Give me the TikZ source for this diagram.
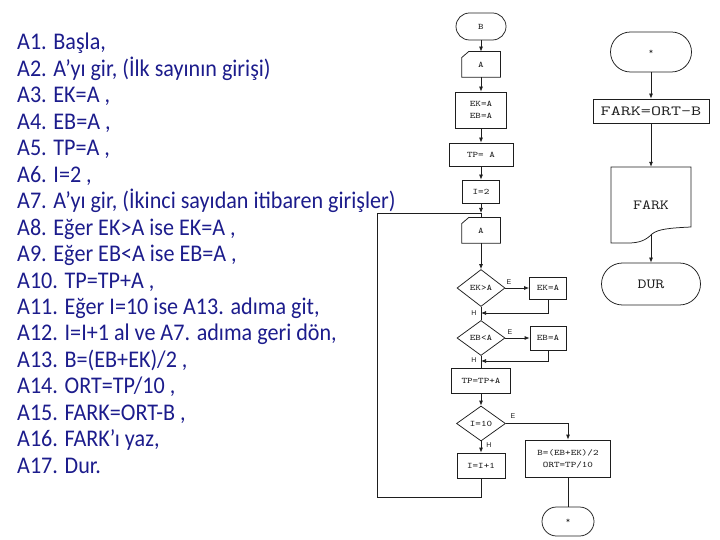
\documentclass[tikz,border=0pt]{standalone}
\usepackage{graphicx}
\usepackage{fontspec}
\setmainfont{Carlito}
\newfontfamily\sansf{Liberation Sans}
\usetikzlibrary{shapes.geometric,arrows.meta,calc}
\definecolor{navytxt}{RGB}{28,28,140}
\definecolor{ink}{RGB}{30,30,30}
\newcommand\flsm{\ttfamily\fontsize{8.5}{12}\selectfont}
\newcommand\flbg{\ttfamily\fontsize{14}{18}\selectfont}
\newcommand\fllab{\sansf\fontsize{7}{8}\selectfont}
\newcommand\sq[1]{\scalebox{0.925}[1]{#1}}
\newcommand\sx[1]{\scalebox{1.25}[1]{#1}}
\tikzset{
  fl/.style={draw=ink, line width=0.75bp},
  box/.style={fl, rectangle, inner sep=0pt, font=\flsm, text=ink, align=center},
  dia/.style={fl, diamond, inner sep=0pt, font=\flsm, text=ink},
  arr/.style={fl, -{Latex[length=5bp,width=4bp]}},
  lab/.style={font=\fllab, text=ink, inner sep=0pt},
  txt/.style={anchor=base west, inner sep=0pt, text=navytxt, font=\fontsize{24}{29}\selectfont}
}
\begin{document}
\begin{tikzpicture}[x=1bp,y=-1bp]
\useasboundingbox (0,0) rectangle (720,540);
% algorithm text
\node[txt] (t1) at (17,50) {\sq{A1. Başla,}};
\node[txt] (t2) at (17,76.45) {\sq{A2. A’yı gir, (İlk sayının girişi)}};
\node[txt] (t3) at (17,102.9) {\sq{A3. EK=A ,}};
\node[txt] (t4) at (17,129.35) {\sq{A4. EB=A ,}};
\node[txt] (t5) at (17,155.8) {\sq{A5. TP=A ,}};
\node[txt] (t6) at (17,182.25) {\sq{A6. I=2 ,}};
\node[txt] (t7) at (17,208.7) {\sq{A7. A’yı gir, (İkinci sayıdan itibaren girişler)}};
\node[txt] (t8) at (17,235.15) {\sq{A8. Eğer EK>A ise EK=A ,}};
\node[txt] (t9) at (17,261.6) {\sq{A9. Eğer EB<A ise EB=A ,}};
\node[txt] (t10) at (17,288.05) {\sq{A10. TP=TP+A ,}};
\node[txt] (t11) at (17,314.5) {\sq{A11. Eğer I=10 ise A13. adıma git,}};
\node[txt] (t12) at (17,340.95) {\sq{A12. I=I+1 al ve A7. adıma geri dön,}};
\node[txt] (t13) at (17,367.4) {\sq{A13. B=(EB+EK)/2 ,}};
\node[txt] (t14) at (17,393.85) {\sq{A14. ORT=TP/10 ,}};
\node[txt] (t15) at (17,420.3) {\sq{A15. FARK=ORT-B ,}};
\node[txt] (t16) at (17,446.75) {\sq{A16. FARK’ı yaz,}};
\node[txt] (t17) at (17,473.2) {\sq{A17. Dur.}};
% left flowchart
\node[box, rounded corners=13.5bp, minimum width=50bp, minimum height=27bp] (b) at (481,26.5) {\sx{B}};
\node[box, draw=none, minimum width=38bp, minimum height=25bp] (a1) at (481,64.5) {\sx{A}};
\draw[fl] ($(a1.north west)+(0,6)$) -- ($(a1.north west)+(7,0)$) -- (a1.north east) -- (a1.south east) -- (a1.south west) -- cycle;
\node[box, minimum width=51bp, minimum height=36bp] (ekeb) at (481,110) {\sx{EK=A}\\\sx{EB=A}};
\node[box, minimum width=64bp, minimum height=23bp] (tp) at (481,154.5) {\sx{TP= A}};
\node[box, minimum width=37bp, minimum height=23bp] (i2) at (481,191.5) {\sx{I=2}};
\node[box, draw=none, minimum width=38bp, minimum height=25bp] (a2) at (481,230.5) {\sx{A}};
\draw[fl] ($(a2.north west)+(0,6)$) -- ($(a2.north west)+(7,0)$) -- (a2.north east) -- (a2.south east) -- (a2.south west) -- cycle;
\node[dia, minimum width=48bp, minimum height=37bp] (d1) at (481,288) {\sx{EK>A}};
\node[box, minimum width=37bp, minimum height=22bp] (eka) at (548,288) {\sx{EK=A}};
\node[dia, minimum width=48bp, minimum height=35bp] (d2) at (481,338) {\sx{EB<A}};
\node[box, minimum width=36bp, minimum height=24bp] (eba) at (548,338) {\sx{EB=A}};
\node[box, minimum width=59bp, minimum height=25bp] (tptp) at (481,380.5) {\sx{TP=TP+A}};
\node[dia, minimum width=49bp, minimum height=35bp] (d3) at (481,423.5) {\sx{I=10}};
\node[box, minimum width=48bp, minimum height=25bp] (ii1) at (481,465.5) {\sx{I=I+1}};
\node[box, minimum width=85bp, minimum height=37bp] (bort) at (568,458.5) {\sx{B=(EB+EK)/2}\\\sx{ORT=TP/10}};
\node[box, rounded corners=14.5bp, minimum width=52bp, minimum height=29bp] (s2) at (568,521.5) {*};
% right flowchart
\node[box, rounded corners=20bp, minimum width=81bp, minimum height=40bp] (s1) at (651,52) {*};
\node[box, font=\flbg, minimum width=116bp, minimum height=24bp] (fo) at (651,111) {\scalebox{1.4}[1]{FARK=ORT-B}};
\node[font=\flbg, text=ink, inner sep=0pt, minimum width=80bp, minimum height=76bp] (doc) at (651,205) {\sx{FARK}};
\draw[fl] (611,167) -- (691,167) -- (691,227) .. controls (670,228) and (658,229) .. (652,234) .. controls (646,240) and (640,243) .. (628,243) -- (611,243) -- cycle;
\coordinate (docb) at (651,235);
\node[box, font=\flbg, rounded corners=21bp, minimum width=99bp, minimum height=42bp] (dur) at (651,284) {\sx{DUR}};
% connectors
\coordinate (j0) at (481,213);
\coordinate (j1) at (481,313);
\coordinate (j2) at (481,361);
\coordinate (lb) at (481,497);
\coordinate (ll) at (377,497);
\coordinate (lt) at (377,213);
\draw[arr] (b) -- (a1);
\draw[arr] (a1) -- (ekeb);
\draw[arr] (ekeb) -- (tp);
\draw[arr] (tp) -- (i2);
\draw[arr] (i2) -- (j0);
\draw[fl] (j0) -- (a2);
\draw[arr] (a2) -- (d1);
\draw[arr] (d1) -- (eka);
\draw[arr] (eka.south) |- (j1);
\draw[fl] (d1) -- (d2);
\draw[arr] (d2) -- (eba);
\draw[arr] (eba.south) |- (j2);
\draw[fl] (d2) -- (tptp);
\draw[arr] (tptp) -- (d3);
\draw[arr] (d3.east) -| (bort.north);
\draw[arr] (d3) -- (ii1);
\draw[fl] (ii1.south) -- (lb) -- (ll) -- (lt) -- (j0);
\draw[fl] (bort) -- (s2);
\draw[arr] (s1) -- (fo);
\draw[arr] (fo) -- (doc.north);
\draw[arr] (docb) -- (dur);
% branch labels
\node[lab] (e1) at (509,282) {E};
\node[lab] (h1) at (474,313) {H};
\node[lab] (e2) at (510,332) {E};
\node[lab] (h2) at (474,360) {H};
\node[lab] (e3) at (513,416) {E};
\node[lab] (h3) at (489,445) {H};
\end{tikzpicture}
\end{document}
